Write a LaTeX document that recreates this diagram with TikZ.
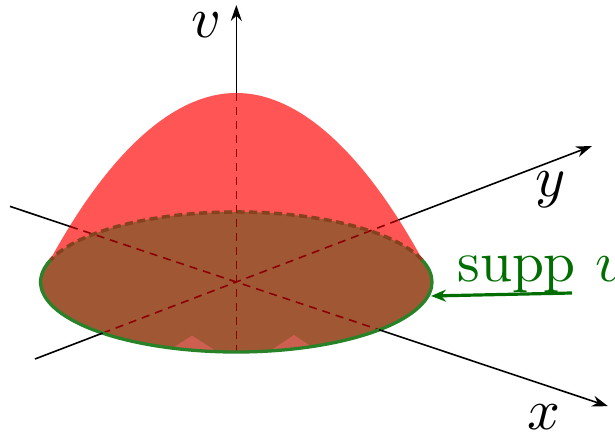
\documentclass[tikz,border=0pt]{standalone}
\usepackage{amsmath}
\usetikzlibrary{arrows.meta}
\definecolor{domered}{RGB}{255,85,85}
\definecolor{basebrown}{RGB}{160,87,52}
\definecolor{rimbrown}{RGB}{135,65,30}
\definecolor{axisred}{RGB}{139,0,0}
\definecolor{rimgreen}{RGB}{40,130,40}
\definecolor{labelgreen}{RGB}{0,110,0}
\definecolor{artifact}{RGB}{205,95,80}
\begin{document}
\begin{tikzpicture}[x=1pt,y=1pt,
  axisarrow/.style={line width=1.6pt, -{Stealth[length=16pt,width=11pt]}},
  axisline/.style={line width=1.6pt},
  hidden/.style={axisred, line width=1.6pt, dash pattern=on 8pt off 6pt},
  lbl/.style={inner sep=0pt, font=\normalsize, scale=5.75, transform shape}]
\useasboundingbox (0,0) rectangle (615,435);
% key points
\coordinate (O) at (236.3,153);
\coordinate (apex) at (236.3,342);
\coordinate (tl) at (50,175);
\coordinate (tr) at (422.6,175);
\coordinate (vbot) at (236.3,83);
\coordinate (vtip) at (236.3,430);
\coordinate (xstart) at (10,228.6);
\coordinate (xin) at (70.1,208.5);
\coordinate (xout) at (379.3,105.2);
\coordinate (xtip) at (608,28.8);
\coordinate (ystart) at (35,76);
\coordinate (yin) at (102.6,101.9);
\coordinate (yout) at (398.5,215);
\coordinate (ytip) at (592,289);
\coordinate (suppstart) at (572,142);
\coordinate (suppend) at (431,139);
% dome
\fill[domered] (tl) parabola bend (apex) (tr) -- cycle;
% base disc
\fill[basebrown] (O) ellipse [x radius=195.7pt, y radius=70pt];
\begin{scope}
  \clip (O) ellipse [x radius=195.7pt, y radius=70pt];
  \fill[artifact] (162,80) -- (192,99.5) -- (222,80) -- cycle;
  \fill[artifact] (264,80) -- (294,100) -- (324,80) -- cycle;
\end{scope}
% hidden axes
\draw[hidden] (xin) -- (xout);
\draw[hidden] (yin) -- (yout);
\draw[hidden] (apex) -- (vbot);
% rim
\draw[rimbrown, line width=3.5pt, dash pattern=on 8pt off 4.5pt]
  (O) ++(18.3:195.7pt and 70pt)
  arc[start angle=18.3, end angle=161.7, x radius=195.7pt, y radius=70pt];
\draw[rimgreen, line width=3.3pt]
  (O) ++(161.7:195.7pt and 70pt)
  arc[start angle=161.7, end angle=378.3, x radius=195.7pt, y radius=70pt];
% visible axes
\draw[axisline] (xstart) -- (xin);
\draw[axisarrow] (xout) -- (xtip);
\draw[axisline] (ystart) -- (yin);
\draw[axisarrow] (yout) -- (ytip);
\draw[axisarrow] (apex) -- (vtip);
% labels
\node[lbl, anchor=base] (vlab) at (206.5,397) {$v$};
\node[lbl, anchor=base] (ylab) at (551,238.3) {$y$};
\node[lbl, anchor=base] (xlab) at (544,5) {$x$};
\node[lbl, anchor=base west, text=labelgreen] (supp) at (456.3,153.5) {$\operatorname{supp}\mkern3mu v$};
\draw[labelgreen, line width=3.2pt, -{Stealth[length=15pt,width=12pt]}] (suppstart) -- (suppend);
\end{tikzpicture}
\end{document}
